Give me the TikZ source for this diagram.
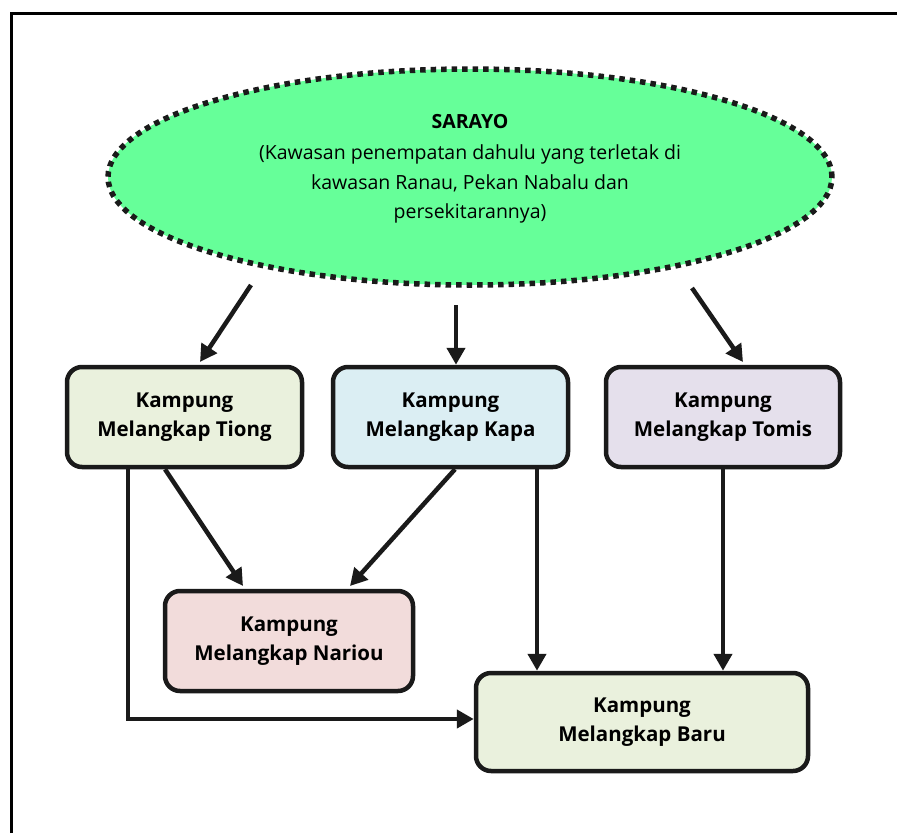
\documentclass[tikz,border=0pt]{standalone}
\usepackage{fontspec}
\setmainfont{Open Sans}
\usetikzlibrary{arrows.meta,shapes.geometric}
\definecolor{ellgreen}{HTML}{66FF99}
\definecolor{lgreen}{HTML}{EAF1DD}
\definecolor{lblue}{HTML}{DBEEF3}
\definecolor{lpurple}{HTML}{E5E0EC}
\definecolor{lpink}{HTML}{F2DCDB}
\definecolor{ink}{HTML}{1A1A1A}
\tikzset{
  box/.style={draw=ink, line width=4.5pt, rounded corners=15pt, minimum height=100pt, align=center, font=\fontsize{20.5}{28.5}\selectfont\bfseries, inner sep=0pt},
  conn/.style={draw=ink, line width=4.5pt, -{Triangle[length=17pt,width=18pt]}},
}
\begin{document}
\begin{tikzpicture}[x=1pt,y=-1pt]
\useasboundingbox (0,0) rectangle (897,833);
\draw[line width=3pt, black] (11,833) -- (11,13) -- (897,13);
\node[ellipse, fill=ellgreen, draw=ink, line width=5.5pt, dash pattern=on 5.5pt off 5pt, minimum width=724pt, minimum height=216pt, inner sep=0pt] (sar) at (470,177) {};
\node[align=center, font=\fontsize{19.5}{29.5}\selectfont] (sartext) at (470,169) {\textbf{SARAYO}\\[2pt](Kawasan penempatan dahulu yang terletak di\\kawasan Ranau, Pekan Nabalu dan\\persekitarannya)};
\node[box, fill=lgreen, minimum width=235pt] (tiong) at (184.5,417) {Kampung\\Melangkap Tiong};
\node[box, fill=lblue, minimum width=235pt] (kapa) at (450.5,417) {Kampung\\Melangkap Kapa};
\node[box, fill=lpurple, minimum width=234pt] (tomis) at (723,417) {Kampung\\Melangkap Tomis};
\node[box, fill=lpink, minimum width=248pt] (nariou) at (289,641) {Kampung\\Melangkap Nariou};
\node[box, fill=lgreen, minimum width=332pt, minimum height=98pt] (baru) at (642,722) {Kampung\\Melangkap Baru};
\coordinate (c1) at (251,285);
\coordinate (c2) at (456,305);
\coordinate (c3) at (692,288);
\draw[conn] (c1) -- (200,362);
\draw[conn] (c2) -- (kapa.north -| c2);
\draw[conn] (c3) -- (743,362);
\draw[conn] (tiong.south -| 165,0) -- (243,586);
\draw[conn] (kapa.south -| 455,0) -- (350,586);
\draw[conn] (kapa.south -| 537,0) -- (baru.north -| 537,0);
\draw[conn] (tomis.south) -- (baru.north -| tomis.south);
\draw[conn] (tiong.south -| 128,0) -- (128,719) -- (baru.west |- 0,719);
\end{tikzpicture}
\end{document}
